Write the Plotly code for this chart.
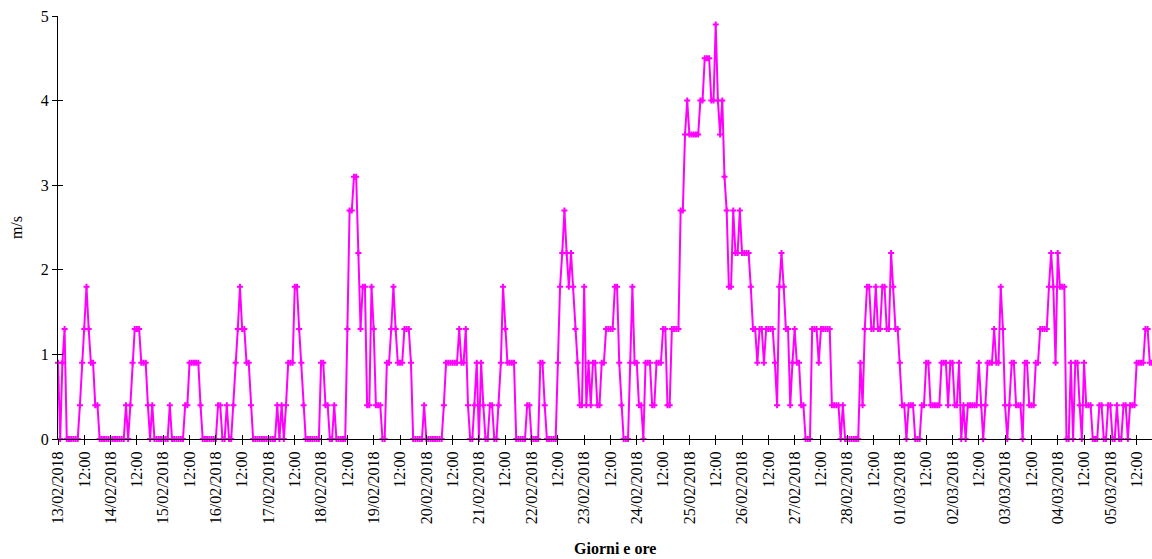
import pandas as pd
import plotly.graph_objects as go

# Hourly wind speed (m/s), 13/02/2018 00:00 onwards, one row per day
speed = [
    0.9, 0, 0.9, 1.3, 0, 0, 0, 0, 0, 0, 0.4, 0.9, 1.3, 1.8, 1.3, 0.9, 0.9, 0.4, 0.4, 0, 0, 0, 0, 0,
    0, 0, 0, 0, 0, 0, 0, 0.4, 0, 0.4, 0.9, 1.3, 1.3, 1.3, 0.9, 0.9, 0.9, 0.4, 0, 0.4, 0, 0, 0, 0,
    0, 0, 0, 0.4, 0, 0, 0, 0, 0, 0, 0.4, 0.4, 0.9, 0.9, 0.9, 0.9, 0.9, 0.4, 0, 0, 0, 0, 0, 0,
    0, 0.4, 0.4, 0, 0, 0.4, 0, 0, 0.4, 0.9, 1.3, 1.8, 1.3, 1.3, 0.9, 0.9, 0.4, 0, 0, 0, 0, 0, 0, 0,
    0, 0, 0, 0, 0.4, 0, 0.4, 0, 0.4, 0.9, 0.9, 0.9, 1.8, 1.8, 1.3, 0.9, 0.4, 0, 0, 0, 0, 0, 0, 0,
    0.9, 0.9, 0.4, 0.4, 0, 0, 0.4, 0, 0, 0, 0, 0, 1.3, 2.7, 2.7, 3.1, 3.1, 2.2, 1.3, 1.8, 1.8, 0.4, 0.4, 1.8,
    1.3, 0.4, 0.4, 0.4, 0, 0, 0.9, 0.9, 1.3, 1.8, 1.3, 0.9, 0.9, 0.9, 1.3, 1.3, 1.3, 0.9, 0, 0, 0, 0, 0, 0.4,
    0, 0, 0, 0, 0, 0, 0, 0, 0.4, 0.9, 0.9, 0.9, 0.9, 0.9, 0.9, 1.3, 0.9, 0.9, 1.3, 0.4, 0, 0, 0.4, 0.9,
    0, 0.9, 0.4, 0, 0, 0.4, 0.4, 0, 0, 0.4, 0.9, 1.8, 1.3, 0.9, 0.9, 0.9, 0.9, 0, 0, 0, 0, 0, 0.4, 0.4,
    0, 0, 0, 0, 0.9, 0.9, 0.4, 0, 0, 0, 0, 0, 0.9, 1.8, 2.2, 2.7, 2.2, 1.8, 2.2, 1.8, 1.3, 0.9, 0.4, 0.4,
    1.8, 0.4, 0.9, 0.4, 0.9, 0.9, 0.4, 0.4, 0.9, 0.9, 1.3, 1.3, 1.3, 1.3, 1.8, 1.8, 0.9, 0.4, 0, 0, 0, 0.9, 1.8, 0.9,
    0.9, 0.4, 0.4, 0, 0.9, 0.9, 0.9, 0.4, 0.4, 0.9, 0.9, 0.9, 1.3, 1.3, 0.4, 0.4, 1.3, 1.3, 1.3, 1.3, 2.7, 2.7, 3.6, 4.0,
    3.6, 3.6, 3.6, 3.6, 3.6, 4.0, 4.0, 4.5, 4.5, 4.5, 4.0, 4.0, 4.9, 4.0, 3.6, 4.0, 3.1, 2.7, 1.8, 1.8, 2.7, 2.2, 2.2, 2.7,
    2.2, 2.2, 2.2, 2.2, 1.8, 1.3, 1.3, 0.9, 1.3, 1.3, 0.9, 1.3, 1.3, 1.3, 1.3, 0.9, 0.4, 1.8, 2.2, 1.8, 1.3, 1.3, 0.4, 0.9,
    1.3, 0.9, 0.9, 0.4, 0.4, 0, 0, 0, 1.3, 1.3, 1.3, 0.9, 1.3, 1.3, 1.3, 1.3, 1.3, 0.4, 0.4, 0.4, 0.4, 0, 0.4, 0,
    0, 0, 0, 0, 0, 0, 0.9, 0.4, 1.3, 1.8, 1.8, 1.3, 1.3, 1.8, 1.3, 1.3, 1.8, 1.8, 1.3, 1.3, 2.2, 1.8, 1.3, 1.3,
    0.9, 0.4, 0.4, 0, 0.4, 0.4, 0.4, 0, 0, 0, 0.4, 0.4, 0.9, 0.9, 0.4, 0.4, 0.4, 0.4, 0.4, 0.9, 0.9, 0.9, 0.4, 0.9,
    0.9, 0.4, 0.4, 0.9, 0, 0.4, 0, 0.4, 0.4, 0.4, 0.4, 0.4, 0.9, 0.4, 0, 0.4, 0.9, 0.9, 0.9, 1.3, 0.9, 0.9, 1.8, 1.3,
    0.4, 0, 0.4, 0.9, 0.9, 0.4, 0.4, 0.4, 0, 0.9, 0.9, 0.4, 0.4, 0.4, 0.9, 0.9, 1.3, 1.3, 1.3, 1.3, 1.8, 2.2, 1.8, 0.9,
    2.2, 1.8, 1.8, 1.8, 0, 0, 0.9, 0, 0.9, 0.9, 0.4, 0, 0.9, 0.4, 0.4, 0.4, 0, 0, 0, 0.4, 0.4, 0, 0, 0.4,
    0.4, 0, 0, 0.4, 0, 0, 0.4, 0.4, 0, 0.4, 0.4, 0.4, 0.9, 0.9, 0.9, 0.9, 1.3, 1.3, 0.9, 0.9,
]

start_time = "2018-02-13 00:00"

day_labels = [
    "13/02/2018", "14/02/2018", "15/02/2018", "16/02/2018", "17/02/2018", "18/02/2018",
    "19/02/2018", "20/02/2018", "21/02/2018", "22/02/2018", "23/02/2018", "24/02/2018",
    "25/02/2018", "26/02/2018", "27/02/2018", "28/02/2018", "01/03/2018", "02/03/2018",
    "03/03/2018", "04/03/2018", "05/03/2018",
]
noon_label = "12:00"

y_ticks = [0, 1, 2, 3, 4, 5]

times = pd.date_range(start_time, periods=len(speed), freq="h")

tick_vals = []
tick_text = []
for i, d in enumerate(day_labels):
    day0 = pd.Timestamp(start_time) + pd.Timedelta(days=i)
    tick_vals.append(day0)
    tick_text.append(d)
    tick_vals.append(day0 + pd.Timedelta(hours=12))
    tick_text.append(noon_label)

FONT = "Liberation Serif, Times New Roman, serif"
FS = 16
MAG = "#FF00FF"

fig = go.Figure()
fig.add_trace(go.Scatter(
    x=times, y=speed, mode="lines+markers",
    line=dict(color=MAG, width=2),
    marker=dict(symbol="cross", size=5, color=MAG),
    cliponaxis=False, showlegend=False, hoverinfo="x+y",
))
# invisible helper trace so the overlay axes (crossing tick marks) render
fig.add_trace(go.Scatter(
    x=times, y=speed, xaxis="x2", yaxis="y2", mode="lines",
    line=dict(width=0), opacity=0, showlegend=False, hoverinfo="skip",
))

xr = [times[0], times[-1]]
fig.update_layout(
    width=1152, height=559,
    margin=dict(l=58, r=0, t=16, b=120, autoexpand=False),
    paper_bgcolor="white", plot_bgcolor="white",
    font=dict(family=FONT, size=FS, color="black"),
    showlegend=False,
    xaxis=dict(
        type="date", range=xr, tickmode="array", tickvals=tick_vals, ticktext=tick_text,
        tickangle=-90, ticks="outside", ticklen=5, tickcolor="black", tickwidth=1,
        showline=True, linecolor="black", linewidth=1, showgrid=False, zeroline=False,
        tickfont=dict(family=FONT, size=FS, color="black"), automargin=False,
    ),
    yaxis=dict(
        range=[0, 5], tickmode="array", tickvals=y_ticks,
        ticks="outside", ticklen=5, tickcolor="black", tickwidth=1,
        showline=True, linecolor="black", linewidth=1, showgrid=False, zeroline=False,
        tickfont=dict(family=FONT, size=FS, color="black"), automargin=False,
        title=dict(text="m/s", font=dict(family=FONT, size=FS, color="black"), standoff=14),
    ),
    xaxis2=dict(
        type="date", range=xr, overlaying="x", anchor="y", side="bottom",
        tickmode="array", tickvals=tick_vals, ticks="inside", ticklen=4,
        tickcolor="black", tickwidth=1, showticklabels=False, showline=False,
        showgrid=False, zeroline=False, automargin=False,
    ),
    yaxis2=dict(
        range=[0, 5], overlaying="y", anchor="x", side="left",
        tickmode="array", tickvals=y_ticks, ticks="inside", ticklen=5,
        tickcolor="black", tickwidth=1, showticklabels=False, showline=False,
        showgrid=False, zeroline=False, automargin=False,
    ),
    annotations=[dict(
        text="<b>Giorni e ore</b>", xref="paper", yref="paper",
        x=0.509, y=-0.26, xanchor="center", yanchor="middle", showarrow=False,
        font=dict(family=FONT, size=FS, color="black"),
    )],
)

fig.write_html(
    "out.html",
    config={"displayModeBar": False},
    post_script="document.body.style.margin='0';document.body.style.overflow='hidden';",
)
